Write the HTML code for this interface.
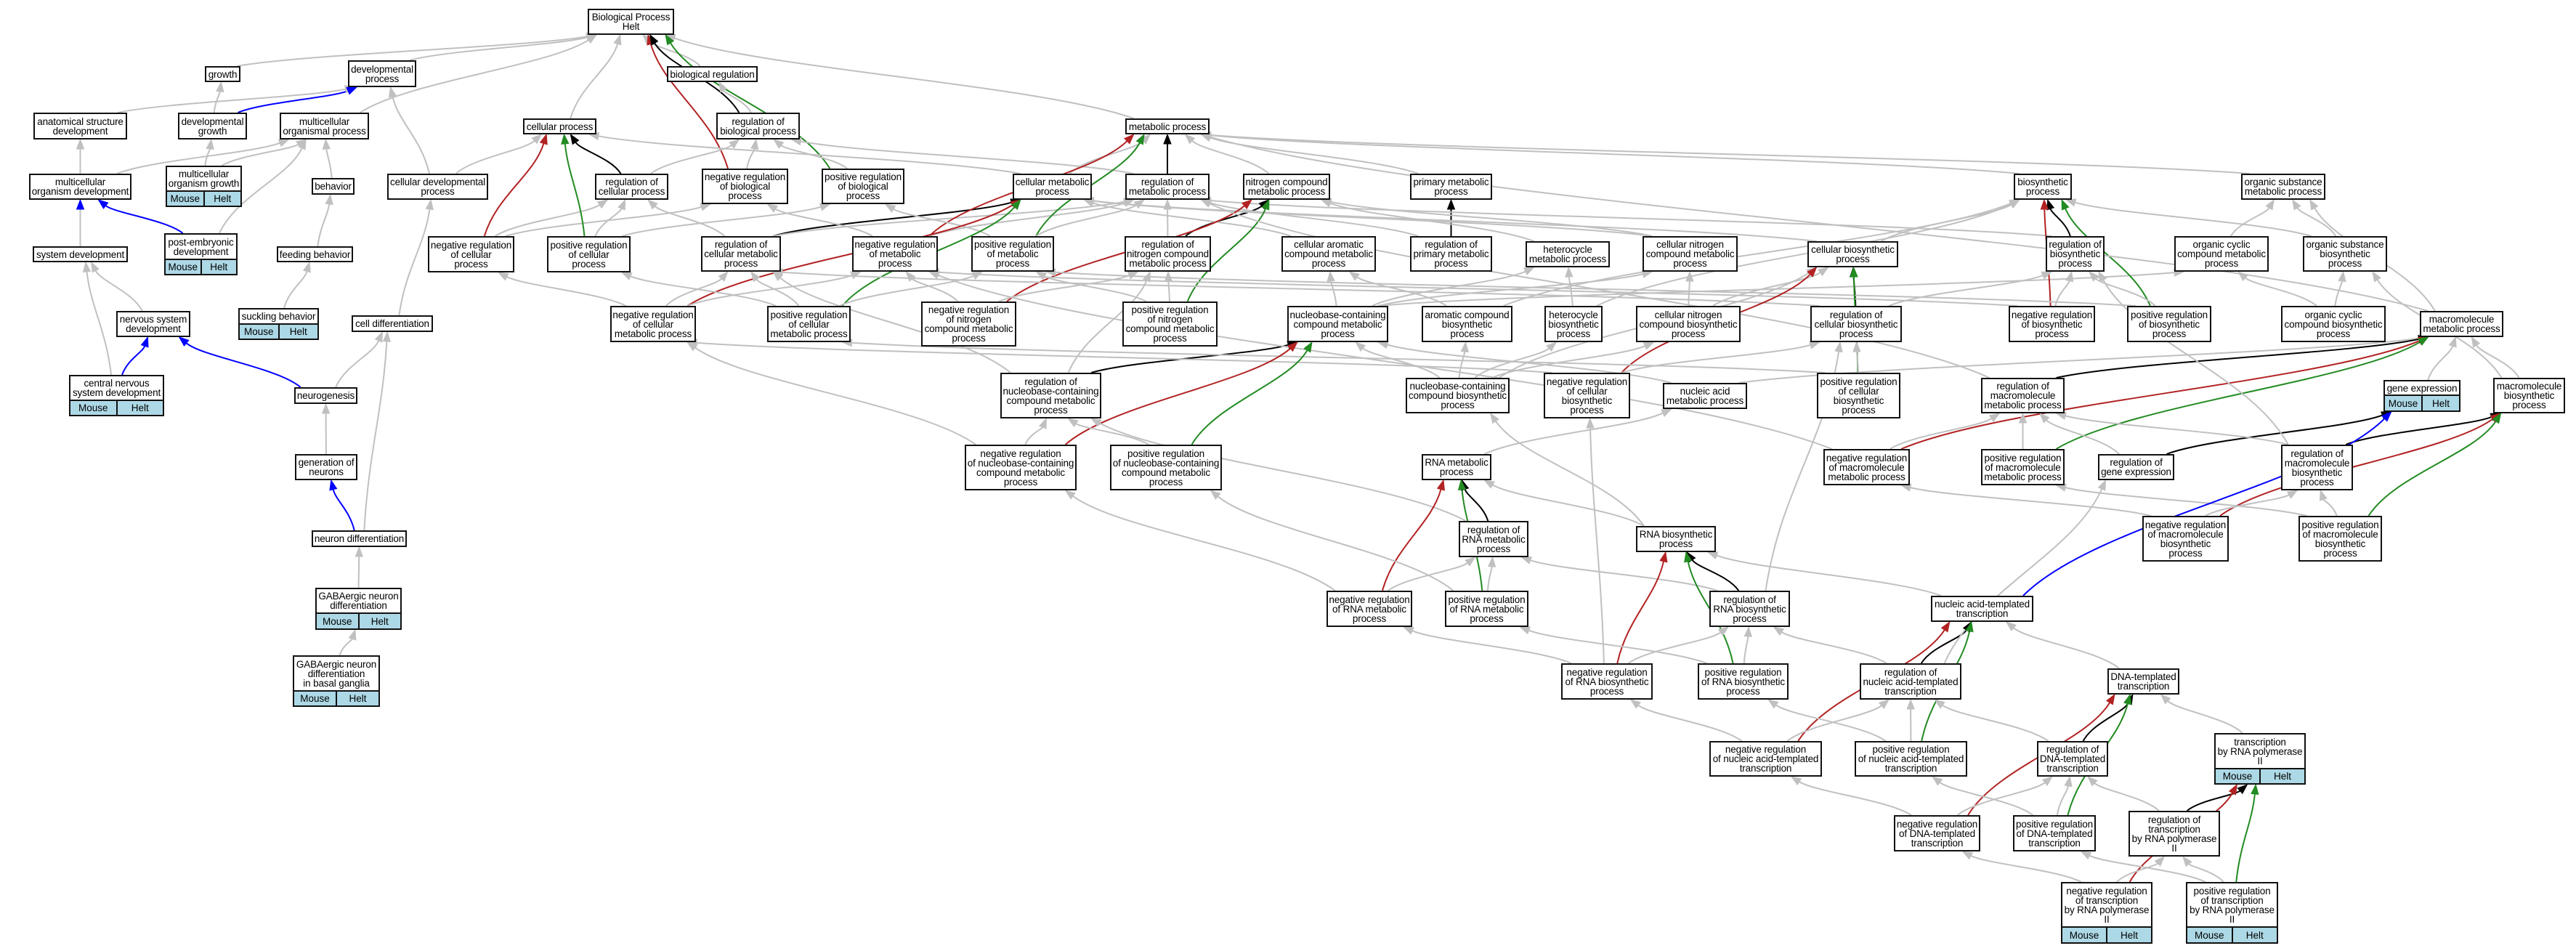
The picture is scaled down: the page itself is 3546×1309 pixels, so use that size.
<!DOCTYPE html>
<html><head><meta charset="utf-8">
<style>
html,body{margin:0;padding:0;background:#fff;}
body{width:3546px;height:1309px;position:relative;overflow:hidden;font-family:"Liberation Sans",Arial,sans-serif;}
svg{position:absolute;left:0;top:0;}
.n{position:absolute;box-sizing:border-box;border:2px solid #111;background:#fff;display:flex;align-items:center;justify-content:center;text-align:center;font-size:13.5px;line-height:13px;color:#000;z-index:2;white-space:nowrap;letter-spacing:-0.15px;overflow:visible;}
.r{position:absolute;box-sizing:border-box;border:2px solid #111;border-top:none;background:#add8e6;display:flex;font-size:13.5px;z-index:2;white-space:nowrap;}
.r span{flex:1;display:flex;align-items:center;justify-content:center;}
.r span+span{border-left:2px solid #111;}
</style></head><body>
<svg id="sv" width="3546" height="1309" viewBox="0 0 3546 1309"></svg>

<div class="n" id="BP" style="left:809px;top:12px;width:119px;height:36px">Biological Process<br>Helt</div>
<div class="n" id="growth" style="left:282px;top:91px;width:49px;height:22px">growth</div>
<div class="n" id="devproc" style="left:479px;top:83px;width:94px;height:37px">developmental<br>process</div>
<div class="n" id="bioreg" style="left:918px;top:91px;width:125px;height:22px">biological regulation</div>
<div class="n" id="asd" style="left:46px;top:155px;width:129px;height:37px">anatomical structure<br>development</div>
<div class="n" id="devgrowth" style="left:245px;top:155px;width:95px;height:37px">developmental<br>growth</div>
<div class="n" id="mop" style="left:385px;top:155px;width:123px;height:37px">multicellular<br>organismal process</div>
<div class="n" id="cellproc" style="left:720px;top:163px;width:101px;height:22px">cellular process</div>
<div class="n" id="rbp" style="left:986px;top:155px;width:115px;height:37px">regulation of<br>biological process</div>
<div class="n" id="metab" style="left:1549px;top:163px;width:116px;height:22px">metabolic process</div>
<div class="n" id="mod" style="left:40px;top:239px;width:141px;height:36px">multicellular<br>organism development</div>
<div class="n" id="mog" style="left:228px;top:228px;width:105px;height:36px">multicellular<br>organism growth</div>
<div class="r" id="mog_r" style="left:228px;top:264px;width:105px;height:21px"><span>Mouse</span><span>Helt</span></div>
<div class="n" id="behavior" style="left:429px;top:245px;width:59px;height:23px">behavior</div>
<div class="n" id="cdp" style="left:533px;top:239px;width:139px;height:36px">cellular developmental<br>process</div>
<div class="n" id="rcp" style="left:819px;top:239px;width:101px;height:36px">regulation of<br>cellular process</div>
<div class="n" id="nrbp" style="left:966px;top:232px;width:119px;height:49px">negative regulation<br>of biological<br>process</div>
<div class="n" id="prbp" style="left:1131px;top:232px;width:114px;height:49px">positive regulation<br>of biological<br>process</div>
<div class="n" id="cmp" style="left:1394px;top:239px;width:109px;height:36px">cellular metabolic<br>process</div>
<div class="n" id="rmp" style="left:1549px;top:239px;width:116px;height:36px">regulation of<br>metabolic process</div>
<div class="n" id="ncmp" style="left:1711px;top:239px;width:120px;height:36px">nitrogen compound<br>metabolic process</div>
<div class="n" id="pmp" style="left:1941px;top:239px;width:113px;height:36px">primary metabolic<br>process</div>
<div class="n" id="bsp" style="left:2772px;top:239px;width:80px;height:36px">biosynthetic<br>process</div>
<div class="n" id="osmp" style="left:3085px;top:239px;width:116px;height:36px">organic substance<br>metabolic process</div>
<div class="n" id="sysdev" style="left:45px;top:339px;width:131px;height:22px">system development</div>
<div class="n" id="ped" style="left:226px;top:321px;width:101px;height:37px">post-embryonic<br>development</div>
<div class="r" id="ped_r" style="left:226px;top:358px;width:101px;height:21px"><span>Mouse</span><span>Helt</span></div>
<div class="n" id="feeding" style="left:381px;top:339px;width:105px;height:22px">feeding behavior</div>
<div class="n" id="nrcp" style="left:589px;top:325px;width:119px;height:50px">negative regulation<br>of cellular<br>process</div>
<div class="n" id="prcp" style="left:753px;top:325px;width:115px;height:50px">positive regulation<br>of cellular<br>process</div>
<div class="n" id="rcmp" style="left:965px;top:325px;width:110px;height:49px">regulation of<br>cellular metabolic<br>process</div>
<div class="n" id="nrmp" style="left:1173px;top:325px;width:118px;height:49px">negative regulation<br>of metabolic<br>process</div>
<div class="n" id="prmp" style="left:1337px;top:325px;width:114px;height:49px">positive regulation<br>of metabolic<br>process</div>
<div class="n" id="rncmp" style="left:1548px;top:325px;width:119px;height:49px">regulation of<br>nitrogen compound<br>metabolic process</div>
<div class="n" id="camp" style="left:1764px;top:325px;width:130px;height:49px">cellular aromatic<br>compound metabolic<br>process</div>
<div class="n" id="rpmp" style="left:1941px;top:325px;width:113px;height:49px">regulation of<br>primary metabolic<br>process</div>
<div class="n" id="hmp" style="left:2100px;top:332px;width:116px;height:36px">heterocycle<br>metabolic process</div>
<div class="n" id="cncmp" style="left:2261px;top:325px;width:131px;height:49px">cellular nitrogen<br>compound metabolic<br>process</div>
<div class="n" id="cbp" style="left:2488px;top:332px;width:125px;height:36px">cellular biosynthetic<br>process</div>
<div class="n" id="rbsp" style="left:2816px;top:325px;width:81px;height:49px">regulation of<br>biosynthetic<br>process</div>
<div class="n" id="occmp" style="left:2993px;top:325px;width:130px;height:49px">organic cyclic<br>compound metabolic<br>process</div>
<div class="n" id="osbp" style="left:3170px;top:325px;width:116px;height:49px">organic substance<br>biosynthetic<br>process</div>
<div class="n" id="nsd" style="left:160px;top:428px;width:102px;height:36px">nervous system<br>development</div>
<div class="n" id="suckling" style="left:328px;top:424px;width:111px;height:23px">suckling behavior</div>
<div class="r" id="suckling_r" style="left:328px;top:447px;width:111px;height:21px"><span>Mouse</span><span>Helt</span></div>
<div class="n" id="celldiff" style="left:484px;top:434px;width:112px;height:23px">cell differentiation</div>
<div class="n" id="nrcmp" style="left:840px;top:421px;width:118px;height:50px">negative regulation<br>of cellular<br>metabolic process</div>
<div class="n" id="prcmp" style="left:1056px;top:421px;width:115px;height:50px">positive regulation<br>of cellular<br>metabolic process</div>
<div class="n" id="nrncmp" style="left:1268px;top:415px;width:131px;height:62px">negative regulation<br>of nitrogen<br>compound metabolic<br>process</div>
<div class="n" id="prncmp" style="left:1545px;top:415px;width:131px;height:62px">positive regulation<br>of nitrogen<br>compound metabolic<br>process</div>
<div class="n" id="nbcmp" style="left:1772px;top:421px;width:139px;height:50px">nucleobase-containing<br>compound metabolic<br>process</div>
<div class="n" id="acbp" style="left:1957px;top:421px;width:125px;height:50px">aromatic compound<br>biosynthetic<br>process</div>
<div class="n" id="hbp" style="left:2126px;top:421px;width:80px;height:50px">heterocycle<br>biosynthetic<br>process</div>
<div class="n" id="cncbp" style="left:2252px;top:421px;width:144px;height:50px">cellular nitrogen<br>compound biosynthetic<br>process</div>
<div class="n" id="rcbp" style="left:2492px;top:421px;width:126px;height:50px">regulation of<br>cellular biosynthetic<br>process</div>
<div class="n" id="nrbsp" style="left:2765px;top:421px;width:119px;height:50px">negative regulation<br>of biosynthetic<br>process</div>
<div class="n" id="prbsp" style="left:2928px;top:421px;width:116px;height:50px">positive regulation<br>of biosynthetic<br>process</div>
<div class="n" id="occbp" style="left:3140px;top:421px;width:144px;height:50px">organic cyclic<br>compound biosynthetic<br>process</div>
<div class="n" id="mmp" style="left:3331px;top:428px;width:115px;height:36px">macromolecule<br>metabolic process</div>
<div class="n" id="cnsd" style="left:95px;top:516px;width:131px;height:36px">central nervous<br>system development</div>
<div class="r" id="cnsd_r" style="left:95px;top:552px;width:131px;height:21px"><span>Mouse</span><span>Helt</span></div>
<div class="n" id="neurogenesis" style="left:405px;top:533px;width:87px;height:23px">neurogenesis</div>
<div class="n" id="rnbcmp" style="left:1377px;top:513px;width:139px;height:63px">regulation of<br>nucleobase-containing<br>compound metabolic<br>process</div>
<div class="n" id="nbcbp" style="left:1935px;top:520px;width:143px;height:49px">nucleobase-containing<br>compound biosynthetic<br>process</div>
<div class="n" id="nrcbp" style="left:2125px;top:513px;width:119px;height:63px">negative regulation<br>of cellular<br>biosynthetic<br>process</div>
<div class="n" id="nametab" style="left:2289px;top:527px;width:116px;height:36px">nucleic acid<br>metabolic process</div>
<div class="n" id="prcbp" style="left:2501px;top:513px;width:115px;height:63px">positive regulation<br>of cellular<br>biosynthetic<br>process</div>
<div class="n" id="rmmp" style="left:2727px;top:520px;width:115px;height:49px">regulation of<br>macromolecule<br>metabolic process</div>
<div class="n" id="geneexp" style="left:3281px;top:523px;width:106px;height:22px">gene expression</div>
<div class="r" id="geneexp_r" style="left:3281px;top:545px;width:106px;height:22px"><span>Mouse</span><span>Helt</span></div>
<div class="n" id="mbp" style="left:3432px;top:520px;width:99px;height:49px">macromolecule<br>biosynthetic<br>process</div>
<div class="n" id="nrnbcmp" style="left:1328px;top:612px;width:154px;height:63px">negative regulation<br>of nucleobase-containing<br>compound metabolic<br>process</div>
<div class="n" id="prnbcmp" style="left:1528px;top:612px;width:154px;height:63px">positive regulation<br>of nucleobase-containing<br>compound metabolic<br>process</div>
<div class="n" id="rnamp" style="left:1957px;top:625px;width:96px;height:36px">RNA metabolic<br>process</div>
<div class="n" id="nrmmp" style="left:2510px;top:618px;width:119px;height:50px">negative regulation<br>of macromolecule<br>metabolic process</div>
<div class="n" id="prmmp" style="left:2727px;top:618px;width:115px;height:50px">positive regulation<br>of macromolecule<br>metabolic process</div>
<div class="n" id="rge" style="left:2888px;top:625px;width:105px;height:36px">regulation of<br>gene expression</div>
<div class="n" id="rmbp" style="left:3140px;top:612px;width:99px;height:63px">regulation of<br>macromolecule<br>biosynthetic<br>process</div>
<div class="n" id="genneur" style="left:406px;top:625px;width:86px;height:36px">generation of<br>neurons</div>
<div class="n" id="rrnamp" style="left:2008px;top:717px;width:96px;height:50px">regulation of<br>RNA metabolic<br>process</div>
<div class="n" id="rnabp" style="left:2252px;top:724px;width:110px;height:36px">RNA biosynthetic<br>process</div>
<div class="n" id="nrmbp" style="left:2949px;top:710px;width:119px;height:63px">negative regulation<br>of macromolecule<br>biosynthetic<br>process</div>
<div class="n" id="prmbp" style="left:3164px;top:710px;width:115px;height:63px">positive regulation<br>of macromolecule<br>biosynthetic<br>process</div>
<div class="n" id="neurdiff" style="left:429px;top:730px;width:131px;height:23px">neuron differentiation</div>
<div class="n" id="GABA" style="left:434px;top:809px;width:119px;height:36px">GABAergic neuron<br>differentiation</div>
<div class="r" id="GABA_r" style="left:434px;top:845px;width:119px;height:22px"><span>Mouse</span><span>Helt</span></div>
<div class="n" id="nrnamp" style="left:1826px;top:813px;width:118px;height:50px">negative regulation<br>of RNA metabolic<br>process</div>
<div class="n" id="prnamp" style="left:1989px;top:813px;width:115px;height:50px">positive regulation<br>of RNA metabolic<br>process</div>
<div class="n" id="rrnabp" style="left:2353px;top:813px;width:111px;height:50px">regulation of<br>RNA biosynthetic<br>process</div>
<div class="n" id="nat" style="left:2658px;top:820px;width:141px;height:36px">nucleic acid-templated<br>transcription</div>
<div class="n" id="GABAbg" style="left:403px;top:902px;width:120px;height:50px">GABAergic neuron<br>differentiation<br>in basal ganglia</div>
<div class="r" id="GABAbg_r" style="left:403px;top:952px;width:120px;height:21px"><span>Mouse</span><span>Helt</span></div>
<div class="n" id="nrrnabp" style="left:2149px;top:913px;width:126px;height:50px">negative regulation<br>of RNA biosynthetic<br>process</div>
<div class="n" id="prrnabp" style="left:2337px;top:913px;width:125px;height:50px">positive regulation<br>of RNA biosynthetic<br>process</div>
<div class="n" id="rnat" style="left:2560px;top:913px;width:140px;height:50px">regulation of<br>nucleic acid-templated<br>transcription</div>
<div class="n" id="dnat" style="left:2901px;top:920px;width:99px;height:36px">DNA-templated<br>transcription</div>
<div class="n" id="nrnat" style="left:2353px;top:1020px;width:155px;height:49px">negative regulation<br>of nucleic acid-templated<br>transcription</div>
<div class="n" id="prnat" style="left:2553px;top:1020px;width:155px;height:49px">positive regulation<br>of nucleic acid-templated<br>transcription</div>
<div class="n" id="rdnat" style="left:2804px;top:1020px;width:98px;height:49px">regulation of<br>DNA-templated<br>transcription</div>
<div class="n" id="tpol" style="left:3048px;top:1009px;width:126px;height:50px">transcription<br>by RNA polymerase<br>II</div>
<div class="r" id="tpol_r" style="left:3048px;top:1059px;width:126px;height:21px"><span>Mouse</span><span>Helt</span></div>
<div class="n" id="nrdnat" style="left:2607px;top:1122px;width:119px;height:50px">negative regulation<br>of DNA-templated<br>transcription</div>
<div class="n" id="prdnat" style="left:2771px;top:1122px;width:114px;height:50px">positive regulation<br>of DNA-templated<br>transcription</div>
<div class="n" id="rtpol" style="left:2930px;top:1116px;width:126px;height:63px">regulation of<br>transcription<br>by RNA polymerase<br>II</div>
<div class="n" id="nrtpol" style="left:2837px;top:1214px;width:126px;height:63px">negative regulation<br>of transcription<br>by RNA polymerase<br>II</div>
<div class="r" id="nrtpol_r" style="left:2837px;top:1277px;width:126px;height:22px"><span>Mouse</span><span>Helt</span></div>
<div class="n" id="prtpol" style="left:3009px;top:1214px;width:127px;height:63px">positive regulation<br>of transcription<br>by RNA polymerase<br>II</div>
<div class="r" id="prtpol_r" style="left:3009px;top:1277px;width:127px;height:22px"><span>Mouse</span><span>Helt</span></div>

<script>
var E="growth BP g;devproc BP g;bioreg BP g;mop BP g;cellproc BP g;metab BP g;nrbp BP r;prbp BP G;rbp BP k;rbp bioreg g;"+
"asd devproc g;devgrowth growth g;devgrowth devproc b;mod asd g;mod mop g;mog devgrowth g;mog mop g;behavior mop g;cdp devproc g;cdp cellproc g;"+
"sysdev mod b;sysdev asd g;ped mod b;ped mop g;feeding behavior g;nsd sysdev g;cnsd nsd b;cnsd sysdev g;suckling feeding g;celldiff cdp g;"+
"neurogenesis nsd b;neurogenesis celldiff g;genneur neurogenesis g;neurdiff genneur b;neurdiff celldiff g;GABA neurdiff g;GABAbg GABA g;"+
"rcp cellproc k;rcp rbp g;nrcp cellproc r;nrcp rcp g;nrcp nrbp g;prcp cellproc G;prcp rcp g;prcp prbp g;"+
"cmp metab g;cmp cellproc g;rmp metab k;rmp rbp g;ncmp metab g;pmp metab g;bsp metab g;osmp metab g;nrbp rbp g;prbp rbp g;"+
"rcmp cmp k;rcmp rmp g;rcmp rcp g;nrmp metab r;nrmp rmp g;nrmp nrbp g;prmp metab G;prmp rmp g;prmp prbp g;rncmp ncmp k;rncmp rmp g;"+
"camp cmp g;rpmp pmp k;rpmp rmp g;hmp ncmp g;cncmp ncmp g;cncmp cmp g;cbp bsp g;cbp cmp g;rbsp bsp k;rbsp rmp g;occmp osmp g;osbp osmp g;osbp bsp g;"+
"nrcmp cmp r;nrcmp rcmp g;nrcmp nrmp g;nrcmp nrcp g;prcmp cmp G;prcmp rcmp g;prcmp prmp g;prcmp prcp g;nrncmp ncmp r;nrncmp rncmp g;nrncmp nrmp g;"+
"prncmp ncmp G;prncmp rncmp g;prncmp prmp g;nbcmp camp g;nbcmp hmp g;nbcmp cncmp g;nbcmp occmp g;acbp camp g;acbp bsp g;hbp hmp g;hbp bsp g;"+
"cncbp cncmp g;cncbp cbp g;rcbp cbp k;rcbp rcmp g;rcbp rbsp g;nrbsp bsp r;nrbsp rbsp g;nrbsp nrmp g;prbsp bsp G;prbsp rbsp g;prbsp prmp g;"+
"occbp occmp g;occbp osbp g;mmp osmp g;mmp metab g;rnbcmp nbcmp k;rnbcmp rcmp g;rnbcmp rncmp g;nbcbp nbcmp g;nbcbp acbp g;nbcbp hbp g;nbcbp cncbp g;nbcbp cbp g;"+
"nrcbp cbp r;nrcbp rcbp g;nrcbp nrcmp g;nametab nbcmp g;nametab mmp g;prcbp cbp G;prcbp rcbp g;prcbp prcmp g;rmmp mmp k;rmmp rmp g;geneexp mmp g;mbp mmp g;mbp osbp g;"+
"nrnbcmp nbcmp r;nrnbcmp rnbcmp g;nrnbcmp nrcmp g;prnbcmp nbcmp G;prnbcmp rnbcmp g;rnamp nametab g;nrmmp mmp r;nrmmp rmmp g;nrmmp nrmp g;prmmp mmp G;prmmp rmmp g;"+
"rge geneexp k;rge rmmp g;rmbp mbp k;rmbp rmmp g;rmbp rbsp g;rrnamp rnamp k;rrnamp rnbcmp g;rnabp rnamp g;rnabp nbcbp g;nrmbp mbp r;nrmbp rmbp g;nrmbp nrmmp g;"+
"prmbp mbp G;prmbp rmbp g;prmbp prmmp g;nrnamp rnamp r;nrnamp rrnamp g;nrnamp nrnbcmp g;prnamp rnamp G;prnamp rrnamp g;prnamp prnbcmp g;"+
"rrnabp rnabp k;rrnabp rrnamp g;rrnabp rcbp g;nat rnabp g;nat geneexp b;nrrnabp rnabp r;nrrnabp rrnabp g;nrrnabp nrnamp g;nrrnabp nrcbp g;"+
"prrnabp rnabp G;prrnabp rrnabp g;prrnabp prnamp g;rnat nat k;rnat rrnabp g;rnat rge g;dnat nat g;nrnat nat r;nrnat rnat g;nrnat nrrnabp g;"+
"prnat nat G;prnat rnat g;prnat prrnabp g;rdnat dnat k;rdnat rnat g;tpol dnat g;nrdnat dnat r;nrdnat rdnat g;nrdnat nrnat g;prdnat dnat G;prdnat rdnat g;prdnat prnat g;"+
"rtpol tpol k;rtpol rdnat g;nrtpol tpol r;nrtpol rtpol g;nrtpol nrdnat g;prtpol tpol G;prtpol rtpol g;prtpol prdnat g";
var C={g:"#c0c0c0",r:"#b22222",G:"#228b22",k:"#000000",b:"#0000ff"};
function R(id){var e=document.getElementById(id),l=parseFloat(e.style.left),t=parseFloat(e.style.top),w=parseFloat(e.style.width),h=parseFloat(e.style.height);
var r=document.getElementById(id+"_r");var b=t+h;if(r)b+=parseFloat(r.style.height);return{l:l,t:t,r:l+w,b:b,w:w,cx:l+w/2,cy:t+h/2};}
function cl(v,m){return Math.max(-m,Math.min(m,v));}
var sv=document.getElementById("sv"),out="",arr="";
E.split(";").forEach(function(s){var p=s.split(" ");var a=R(p[0]),q=R(p[1]),col=C[p[2]];
var sx,sy,ex,ey,c1x,c1y,c2x,c2y;
if(q.b<=a.t-5){sx=a.cx+cl((q.cx-a.cx)*0.15,a.w*0.4);sy=a.t;ex=q.cx+cl((a.cx-q.cx)*0.15,q.w*0.4);ey=q.b;
var dy=sy-ey;c1x=sx+(ex-sx)*0.2;c1y=sy-dy*0.4;c2x=ex+(sx-ex)*0.2;c2y=ey+dy*0.4;}
else{sy=a.cy;ey=q.cy;if(q.cx>a.cx){sx=a.r;ex=q.l;}else{sx=a.l;ex=q.r;}var dx=ex-sx;c1x=sx+dx*0.4;c1y=sy;c2x=ex-dx*0.4;c2y=ey;}
var dx2=ex-c2x,dy2=ey-c2y,L=Math.sqrt(dx2*dx2+dy2*dy2)||1;dx2/=L;dy2/=L;
var bx=ex-dx2*13,by=ey-dy2*13,px=-dy2*5,py=dx2*5;
out+='<path d="M'+sx.toFixed(1)+','+sy.toFixed(1)+' C'+c1x.toFixed(1)+','+c1y.toFixed(1)+' '+c2x.toFixed(1)+','+c2y.toFixed(1)+' '+bx.toFixed(1)+','+by.toFixed(1)+'" fill="none" stroke="'+col+'" stroke-width="2"/>';
arr+='<polygon points="'+ex.toFixed(1)+','+ey.toFixed(1)+' '+(bx+px).toFixed(1)+','+(by+py).toFixed(1)+' '+(bx-px).toFixed(1)+','+(by-py).toFixed(1)+'" fill="'+col+'" stroke="'+col+'"/>';
});
sv.innerHTML='<g>'+out+'</g><g>'+arr+'</g>';
</script>
</body></html>
